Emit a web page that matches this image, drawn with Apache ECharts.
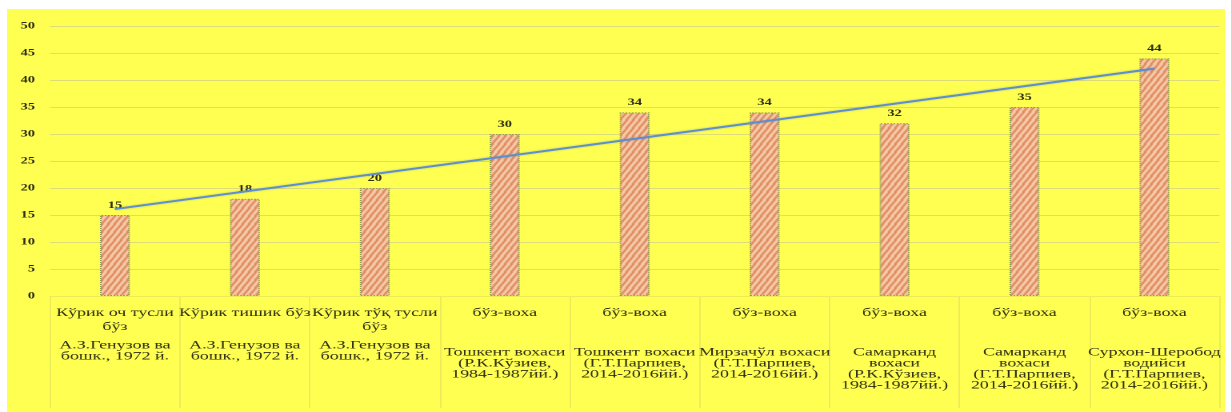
<!DOCTYPE html>
<html>
<head>
<meta charset="utf-8">
<script src="https://cdn.jsdelivr.net/npm/echarts@6/dist/echarts.min.js"></script>
<style>
  html, body { margin: 0; padding: 0; background: #ffffff; }
  #wrap { position: relative; width: 1231px; height: 412px; background: #ffffff; overflow: hidden; }
  #paper { position: absolute; left: 7px; top: 9px; width: 1218px; height: 403px; background: #ffff52; }
  /* the chart is laid out narrow and widened horizontally */
  #chart { position: absolute; left: 0; top: 0; width: 769.375px; height: 412px;
           transform: scaleX(1.6); transform-origin: 0 0; }
</style>
</head>
<body>
<div id="wrap">
  <div id="paper"></div>
  <div id="chart"></div>
</div>
<script>
// Soil types (upper label row)
const soilTypes = [
  'Кўрик оч тусли\nбўз',
  'Кўрик тишик бўз',
  'Кўрик тўқ тусли\nбўз',
  'бўз-воха',
  'бўз-воха',
  'бўз-воха',
  'бўз-воха',
  'бўз-воха',
  'бўз-воха'
];
// Region and source (lower label row)
const sources = [
  'А.З.Генузов ва\nбошк., 1972 й.',
  'А.З.Генузов ва\nбошк., 1972 й.',
  'А.З.Генузов ва\nбошк., 1972 й.',
  'Тошкент вохаси\n(Р.К.Кўзиев,\n1984-1987йй.)',
  'Тошкент вохаси\n(Г.Т.Парпиев,\n2014-2016йй.)',
  'Мирзачўл вохаси\n(Г.Т.Парпиев,\n2014-2016йй.)',
  'Самарканд\nвохаси\n(Р.К.Кўзиев,\n1984-1987йй.)',
  'Самарканд\nвохаси\n(Г.Т.Парпиев,\n2014-2016йй.)',
  'Сурхон-Шеробод\nводийси\n(Г.Т.Парпиев,\n2014-2016йй.)'
];
// Bar values
const values = [15, 18, 20, 30, 34, 34, 32, 35, 44];
// Linear trend line, drawn between its first and last points
const trendValues = [16.1, null, null, null, null, null, null, null, 42.1];
// Y axis range
const yMin = 0, yMax = 50, yStep = 5;

const categories = soilTypes.map((t, i) => i);
const SX = 1.6; // horizontal stretch applied by CSS

// Hatched fill for the bars
function makeHatch() {
  const c = document.createElement('canvas');
  c.width = 8; c.height = 8;
  const g = c.getContext('2d');
  g.fillStyle = '#f6d3ae';
  g.fillRect(0, 0, 8, 8);
  g.strokeStyle = '#de7850';
  g.lineWidth = 1.4;
  g.beginPath();
  for (let k = -8; k <= 16; k += 4) {
    g.moveTo(k - 1, 9); g.lineTo(k + 4.5, -1);
  }
  g.stroke();
  return c;
}

// Upper row, then a spacer sized so the lower row starts at a common height
function labelFor(i) {
  const t = soilTypes[i].split('\n').map(s => '{t|' + s + '}');
  const a = sources[i].split('\n').map(s => '{a|' + s + '}');
  let gap;
  if (t.length > 1) gap = '{gs| }';
  else if (a.length <= 2) gap = '{gm| }';
  else gap = '{gl| }';
  return t.concat([gap]).concat(a).join('\n');
}

const serif = '"Liberation Serif", "DejaVu Serif", serif';
const ink = '#2c2c12';
const chart = echarts.init(document.getElementById('chart'), null, { renderer: 'canvas', devicePixelRatio: 2 });

chart.setOption({
  backgroundColor: 'transparent',
  animation: false,
  grid: { left: 50 / SX, right: 11 / SX, top: 26, bottom: 116 },
  xAxis: {
    type: 'category',
    data: categories,
    axisLine: { show: true, lineStyle: { color: '#ecec5a', width: 1 } },
    axisTick: { show: true, length: 112, lineStyle: { color: '#ecec5a', width: 1 } },
    axisLabel: {
      interval: 0,
      margin: 10,
      color: ink,
      fontFamily: serif,
      formatter: (v, i) => labelFor(i),
      rich: {
        t: { fontFamily: serif, fontSize: 11.2, lineHeight: 14, color: ink },
        a: { fontFamily: serif, fontSize: 11.2, lineHeight: 11, color: ink },
        gs: { fontSize: 4, lineHeight: 6 },
        gm: { fontSize: 4, lineHeight: 20 },
        gl: { fontSize: 4, lineHeight: 27 }
      }
    }
  },
  yAxis: {
    type: 'value',
    min: yMin,
    max: yMax,
    interval: yStep,
    axisLine: { show: false },
    axisTick: { show: false },
    axisLabel: {
      margin: 15 / SX,
      color: ink,
      fontFamily: serif,
      fontWeight: 'bold',
      fontSize: 9
    },
    splitLine: { lineStyle: { color: '#dcdc7a', width: 1 } }
  },
  series: [
    {
      type: 'bar',
      data: values,
      barWidth: 30 / SX,
      itemStyle: {
        color: { image: makeHatch(), repeat: 'repeat' },
        borderColor: '#8c9a52',
        borderWidth: 1,
        borderType: 'dotted'
      },
      label: {
        show: true,
        position: 'top',
        distance: 5,
        color: ink,
        fontFamily: serif,
        fontWeight: 'bold',
        fontSize: 9
      },
      z: 2
    },
    {
      type: 'line',
      data: trendValues,
      connectNulls: true,
      showSymbol: false,
      symbol: 'none',
      lineStyle: {
        color: '#5b8fd2',
        width: 2,
        shadowColor: 'rgba(60,90,140,0.35)',
        shadowBlur: 2
      },
      z: 3
    }
  ]
});
</script>
</body>
</html>
